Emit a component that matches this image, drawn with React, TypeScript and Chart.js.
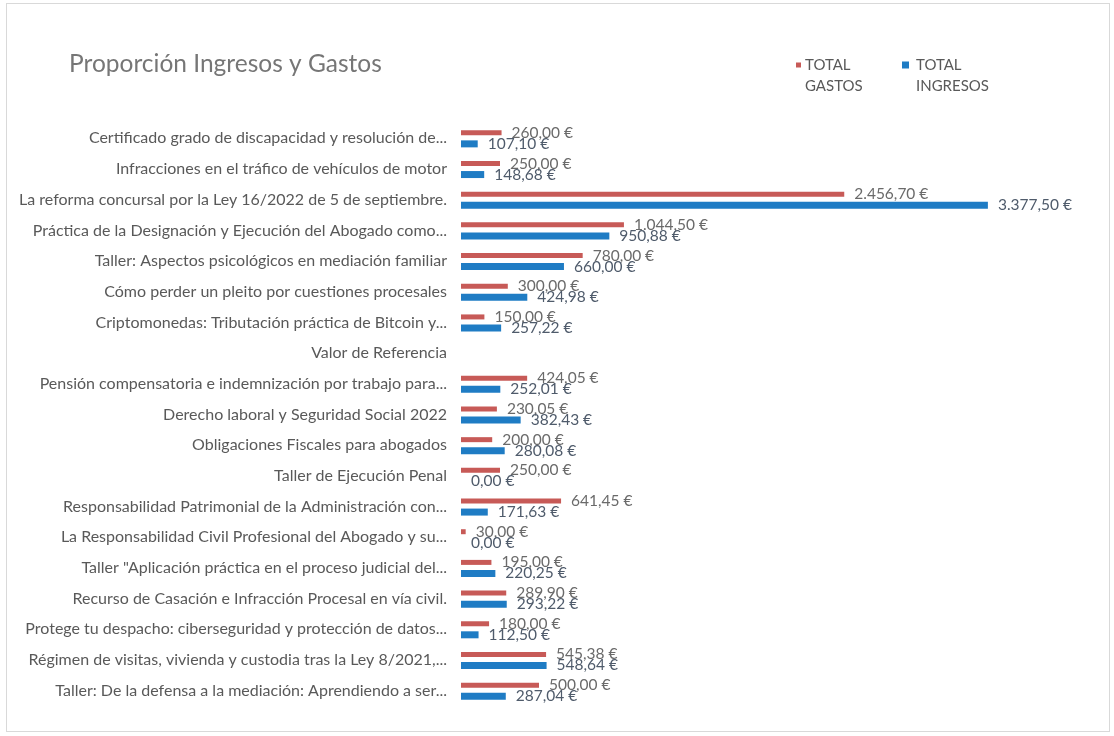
import React, { useEffect, useRef } from 'react';
import { Chart, registerables } from 'chart.js';

Chart.register(...registerables);

const chartTitle = 'Proporción Ingresos y Gastos';

const categories = [
  'Certificado grado de discapacidad y resolución de...',
  'Infracciones en el tráfico de vehículos de motor',
  'La reforma concursal por la Ley 16/2022 de 5 de septiembre.',
  'Práctica de la Designación y Ejecución del Abogado como...',
  'Taller: Aspectos psicológicos en mediación familiar',
  'Cómo perder un pleito por cuestiones procesales',
  'Criptomonedas: Tributación práctica de Bitcoin y...',
  'Valor de Referencia',
  'Pensión compensatoria e indemnización por trabajo para...',
  'Derecho laboral y Seguridad Social 2022',
  'Obligaciones Fiscales para abogados',
  'Taller de Ejecución Penal',
  'Responsabilidad Patrimonial de la Administración con...',
  'La Responsabilidad Civil Profesional del Abogado y su...',
  'Taller "Aplicación práctica en el proceso judicial del...',
  'Recurso de Casación e Infracción Procesal en vía civil.',
  'Protege tu despacho: ciberseguridad y protección de datos...',
  'Régimen de visitas, vivienda y custodia tras la Ley 8/2021,...',
  'Taller: De la defensa a la mediación: Aprendiendo a ser...',
];

const totalGastos: (number | null)[] = [
  260.0, 250.0, 2456.7, 1044.5, 780.0, 300.0, 150.0, null, 424.05, 230.05,
  200.0, 250.0, 641.45, 30.0, 195.0, 289.9, 180.0, 545.38, 500.0,
];

const totalIngresos: (number | null)[] = [
  107.1, 148.68, 3377.5, 950.88, 660.0, 424.98, 257.22, null, 252.01, 382.43,
  280.08, 0.0, 171.63, 0.0, 220.25, 293.22, 112.5, 548.64, 287.04,
];

const seriesNames = ['TOTAL GASTOS', 'TOTAL INGRESOS'];
const legendLines = [
  ['TOTAL', 'GASTOS'],
  ['TOTAL', 'INGRESOS'],
];

const FONT = 'Lato, "Open Sans", sans-serif';
const RED = '#c75a57';
const BLUE = '#1f7cc4';

function fmtEuro(v: number): string {
  const [i, d] = v.toFixed(2).split('.');
  const iF = i.replace(/\B(?=(\d{3})+(?!\d))/g, '.');
  return `${iF},${d} €`;
}

const labelsPlugin = {
  id: 'valueLabels',
  afterDatasetsDraw(chart: any) {
    const ctx = chart.ctx;
    ctx.save();
    ctx.font = `15.5px ${FONT}`;
    ctx.textBaseline = 'middle';
    ctx.textAlign = 'left';
    chart.data.datasets.forEach((ds: any, di: number) => {
      const meta = chart.getDatasetMeta(di);
      ctx.fillStyle = di === 0 ? '#6a6a6a' : '#4f5b6b';
      meta.data.forEach((el: any, i: number) => {
        const v = ds.data[i];
        if (v === null || v === undefined) return;
        ctx.fillText(fmtEuro(v), el.x + 10, el.y);
      });
    });
    ctx.restore();
  },
};

const decorPlugin = {
  id: 'decor',
  afterDraw(chart: any) {
    const ctx = chart.ctx;
    ctx.save();
    ctx.fillStyle = '#767676';
    ctx.font = `24.5px ${FONT}`;
    ctx.textBaseline = 'middle';
    ctx.textAlign = 'left';
    ctx.fillText(chartTitle, 69, 64);

    ctx.font = `15px ${FONT}`;
    const items = [
      { x: 796, color: RED, size: 5, tx: 805, lines: legendLines[0] },
      { x: 902, color: BLUE, size: 7, tx: 916, lines: legendLines[1] },
    ];
    items.forEach((it) => {
      ctx.fillStyle = it.color;
      ctx.fillRect(it.x, 65 - it.size / 2, it.size, it.size);
      ctx.fillStyle = '#595959';
      it.lines.forEach((ln, k) => {
        ctx.fillText(ln, it.tx, 65 + k * 21);
      });
    });
    ctx.restore();
  },
};

export default function App() {
  const ref = useRef<HTMLCanvasElement | null>(null);

  useEffect(() => {
    document.body.style.margin = '0';
    const chart = new Chart(ref.current as HTMLCanvasElement, {
      type: 'bar',
      data: {
        labels: categories,
        datasets: [
          {
            label: seriesNames[0],
            data: totalGastos,
            backgroundColor: RED,
            maxBarThickness: 5,
            categoryPercentage: 0.72,
            barPercentage: 1,
          },
          {
            label: seriesNames[1],
            data: totalIngresos,
            backgroundColor: BLUE,
            maxBarThickness: 7,
            categoryPercentage: 0.72,
            barPercentage: 1,
          },
        ],
      },
      options: {
        indexAxis: 'y',
        responsive: false,
        animation: false,
        layout: { padding: { left: 0, right: 29, top: 123, bottom: 30 } },
        plugins: {
          legend: { display: false },
          title: { display: false },
          tooltip: { enabled: false },
        },
        scales: {
          x: {
            display: false,
            min: 0,
            max: 4000,
          },
          y: {
            afterFit: (scale: any) => {
              scale.width = 461;
            },
            grid: { display: false, drawTicks: false },
            border: { display: false },
            ticks: {
              padding: 14,
              color: '#595959',
              font: { family: FONT, size: 16 },
              autoSkip: false,
            },
          },
        },
      },
      plugins: [labelsPlugin, decorPlugin],
    });
    return () => chart.destroy();
  }, []);

  return (
    <div style={{ position: 'relative', width: 1114, height: 736, background: '#ffffff' }}>
      <div
        style={{
          position: 'absolute',
          left: 6,
          top: 3,
          width: 1104,
          height: 729,
          border: '1px solid #d9d9d9',
          boxSizing: 'border-box',
        }}
      />
      <canvas ref={ref} width={1114} height={736} style={{ position: 'absolute', left: 0, top: 0 }} />
    </div>
  );
}
